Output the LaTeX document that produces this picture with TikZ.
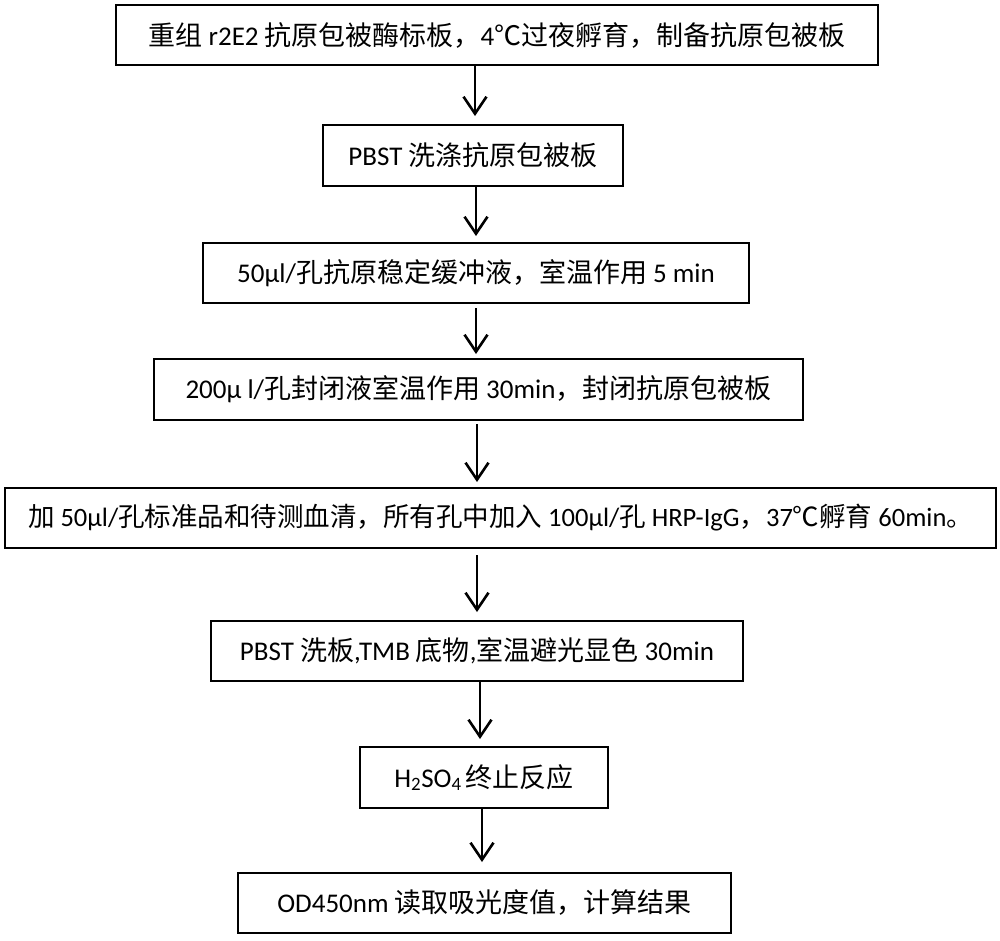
\documentclass[tikz,border=0pt]{standalone}
\usepackage{fontspec}
\setmainfont{Noto Sans CJK SC}
\newfontfamily\lat{Carlito}
\usetikzlibrary{arrows.meta}
\newcommand{\La}[1]{{\lat #1}}
\begin{document}
\begin{tikzpicture}[x=1pt,y=-1pt,
  box/.style={draw=black,line width=2pt,inner sep=0pt,font=\fontsize{27}{30}\selectfont},
  arr/.style={line width=2.6pt,-{Straight Barb[length=17pt,width=23pt,line width=2.6pt]}}]
\useasboundingbox (0,0) rectangle (1000,940);
\node[box,minimum width=762pt,minimum height=60pt] (b1) at (497,35) {重组 \La{r2E2} 抗原包被酶标板，\La{4}℃过夜孵育，制备抗原包被板};
\node[box,minimum width=300pt,minimum height=61pt] (b2) at (473,155.5) {\La{PBST} 洗涤抗原包被板};
\node[box,minimum width=546pt,minimum height=60pt] (b3) at (476,273) {\La{50μl/}孔抗原稳定缓冲液，室温作用 \La{5 min}};
\node[box,minimum width=649pt,minimum height=61pt] (b4) at (478.5,389.5) {\La{200μ l/}孔封闭液室温作用 \La{30min}，封闭抗原包被板};
\node[box,minimum width=991pt,minimum height=60pt] (b5) at (500.5,518) {\fontsize{26.5}{30}\selectfont 加 \La{50μl/}孔标准品和待测血清，所有孔中加入 \La{100μl/}孔 \La{HRP-IgG}，\La{37}℃孵育 \La{60min}。};
\node[box,minimum width=532pt,minimum height=60pt] (b6) at (477,651) {\La{PBST} 洗板\La{,TMB} 底物\La{,}室温避光显色 \La{30min}};
\node[box,minimum width=248pt,minimum height=61pt] (b7) at (484,777.5) {\La{H\textsubscript{2}SO\textsubscript{4}}\kern4pt 终止反应};
\node[box,minimum width=493pt,minimum height=60pt] (b8) at (484.5,903) {\La{OD450nm} 读取吸光度值，计算结果};
\coordinate (x1) at (475,0);
\coordinate (x2) at (476,0);
\coordinate (x3) at (476,0);
\coordinate (x4) at (477,0);
\coordinate (x5) at (477,0);
\coordinate (x6) at (480,0);
\coordinate (x7) at (482,0);
\draw[arr,shorten >=8pt] (b1.south -| x1) -- (b2.north -| x1);
\draw[arr,shorten >=6pt] (b2.south -| x2) -- (b3.north -| x2);
\draw[arr,shorten <=4pt,shorten >=4pt] (b3.south -| x3) -- (b4.north -| x3);
\draw[arr,shorten <=3pt,shorten >=5pt] (b4.south -| x4) -- (b5.north -| x4);
\draw[arr,shorten <=6pt,shorten >=8pt] (b5.south -| x5) -- (b6.north -| x5);
\draw[arr,shorten >=7pt] (b6.south -| x6) -- (b7.north -| x6);
\draw[arr,shorten >=10pt] (b7.south -| x7) -- (b8.north -| x7);
\end{tikzpicture}
\end{document}
